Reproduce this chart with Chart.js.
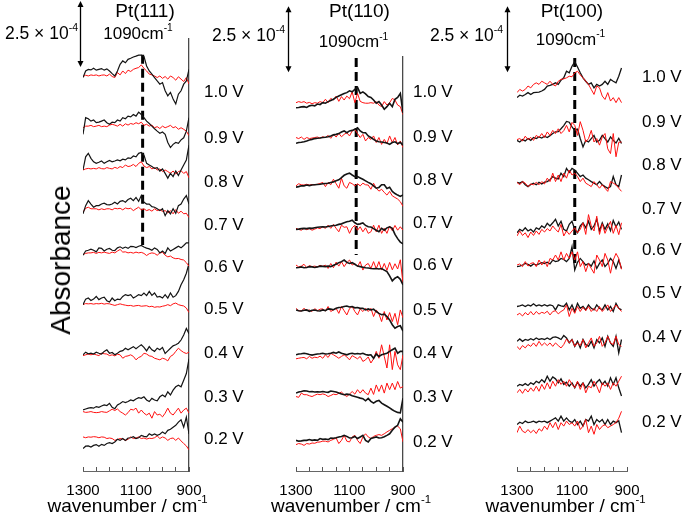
<!DOCTYPE html>
<html><head><meta charset="utf-8">
<script src="https://cdn.jsdelivr.net/npm/chart.js@4.4.1/dist/chart.umd.min.js"></script>
<style>
body{margin:0;background:#fff;}
#wrap{position:relative;width:685px;height:513px;overflow:hidden;font-family:"Liberation Sans",Arial,sans-serif;color:#000;}
#wrap canvas{position:absolute;left:0;top:0;}
.t{position:absolute;white-space:nowrap;line-height:1;}
.t sup{font-size:60%;vertical-align:baseline;position:relative;top:-0.75em;}
</style></head>
<body>
<div id="wrap">
<canvas id="c111" width="685" height="513"></canvas>
<canvas id="c110" width="685" height="513"></canvas>
<canvas id="c100" width="685" height="513"></canvas>
</div>
<script>
// ---------- DATA (absorbance in units of 1e-5, each spectrum relative to its own stacking offset) ----------
const panelTitles = ['Pt(111)', 'Pt(110)', 'Pt(100)'];
const voltages = ['1.0 V','0.9 V','0.8 V','0.7 V','0.6 V','0.5 V','0.4 V','0.3 V','0.2 V'];
const wn111 = [1300,1290,1280,1270,1260,1250,1240,1230,1220,1210,1200,1190,1180,1170,1160,1150,1140,1130,1120,1110,1100,1090,1080,1070,1060,1050,1040,1030,1020,1010,1000,990,980,970,960,950,940,930,920,910,900];
const wn110 = [1300,1290,1280,1270,1260,1250,1240,1230,1220,1210,1200,1190,1180,1170,1160,1150,1140,1130,1120,1110,1100,1090,1080,1070,1060,1050,1040,1030,1020,1010,1000,990,980,970,960,950,940,930,920,910,900];
const wn100 = [1300,1290,1280,1270,1260,1250,1240,1230,1220,1210,1200,1190,1180,1170,1160,1150,1140,1130,1120,1110,1100,1090,1080,1070,1060,1050,1040,1030,1020,1010,1000,990,980,970,960,950,940,930,920];

// stacking offsets (1e-5 units), top trace first
const off111 = [149,130,114,98,82,63,44,22.5,11];
const off110 = [138,125,108,91.5,77,61,44,29.5,11];
const off100 = [142,125.5,109,90.5,78,61,48.5,31.5,17];

// Pt(111) black spectra (1.0 V ... 0.2 V)
const black111 = [
[0,2.5,3.1,2.9,3.5,2.8,3.1,3.4,2.8,3.3, 2.5,1.5,0.6,2.5,5,6.3,5.6,6.9,7.3,7.8, 8.1,8.5,8.5,8,4.4,2.5,1.3,0,-1.3,-2.5, -1.9,-5,-6.9,-5.6,-8.1,-10,-6.3,-5,-2.5,-1.3, 3.1],
[-2.5,3.8,3.4,2.5,2.9,1.9,2.1,2.5,2.9,1.9, 1.3,2.1,1.9,2.9,2.5,3.8,3.4,4.4,4.1,5, 4.4,5.9,5,3.8,2.5,1.6,0.6,-0.4,-1.3,-2.1, -1.6,-2.5,-5.6,-7.5,-6.3,-5.6,-5.9,-4.6,-3.8,-1.3, 3.8],
[0,5,6.3,4.4,3.1,2.5,2.9,3.4,2.5,3.1, 3.6,3.1,3.4,3.8,3.5,4.1,3.8,4.6,4.4,5.3, 5,6.3,6.6,5.6,2.5,1.9,1.3,0.6,0.9,-0.4, 0.4,-1.3,-3.1,-1.3,-2.5,-0.4,-2.1,0,1.9,3.8, 9.4],
[-0.6,2.5,4.4,3.1,1.9,2.5,2.5,3.1,3.4,2.9, 2.8,3.1,3.8,3.1,4.1,4.4,3.8,4.8,5.3,4.4, 5.6,4.1,6.3,3.8,3.1,3.1,2.1,1.9,1.3,0.6, 1.3,-1.3,0.6,-0.6,1.3,-0.4,2.5,3.1,5,6.3, 3.1],
[-0.3,1.3,1.6,2,1.6,1,2.5,2.3,1.3,2, 2.3,1.6,1.5,2.5,2.9,2.3,2.8,2.3,3.1,3, 2.6,3.1,3.4,2.8,2.4,2.1,1.6,2.5,1.9,0.6, 1.3,0.4,2.5,1.3,1.9,2.5,3.1,2.5,3.4,4.4, 4.4],
[0,2.1,2.5,1.6,2.1,3.1,1.9,2.5,2.8,1.5, 1,2.5,1.5,2.1,1.9,3.1,3.8,3.4,3.8,2.5, 3.1,3.8,3.4,4.4,3.4,5,3.5,4.4,2.9,3.1, 2.5,3.8,2.5,4.4,2.8,3.4,5,7.5,9.4,11.9, 15.6],
[0,1,0.4,0.6,0.3,1,0.6,0.3,1.3,1.9, 0.6,0.9,0,0.6,1.3,1.6,2.5,1.9,2.5,3.1, 2.3,3.1,3.8,2.8,1.5,3.1,1.9,1.3,2.5,1.9, 2.8,0.5,1.5,2.5,3.4,3.8,4.4,5.6,7.5,10, 8],
[0.6,1,1.3,1.5,1.3,1.9,1.6,2.1,2.5,2.3, 3.1,1.6,1.1,2.5,3.1,3.8,3.4,3.8,4.4,4.1, 4.8,5.3,5,5.6,4.4,3.8,5,4.4,4.1,5.6, 6.3,5.6,7.5,6.3,8.1,9.4,10,9.4,11.9,14.4, 20],
[-2.5,-1.6,-1.5,-1.9,-1.3,-1,-1.6,-0.9,-1.3,-0.6, -0.3,-0.6,0,1,0.6,1.3,0.6,1.5,1.6,2, 1.3,1.6,2.5,2.1,1.9,3.1,2.5,3,2.5,2.9, 3.8,3.1,4.4,4.8,5.6,6.3,7.5,8.4,5.6,9.4, 3]
];
// Pt(111) red spectra
const red111 = [
[0.4,0.9,0.6,1,0.8,1,0.6,0.9,1,0.6, 1.3,0.4,0,1.9,1,2.5,1.5,2.8,2.3,3.1, 3.5,3.8,4.8,3.5,2.5,1.3,1,0.6,0,0.6, -0.3,0.4,-0.6,0.6,0,-1,0.3,-0.6,-1.5,0, -2.5],
[0,0.6,0.6,0.9,0.4,0.6,0.9,0.4,0.6,0.4, 1,1.3,1,0.6,1.3,0.6,1.5,1,1.6,1.3, 1.9,1.5,2.1,0.9,1.3,0.6,1,0,0.4,-0.3, 0.6,0,0.4,0.9,0,0.4,-0.6,0,-0.6,-1.3, -3],
[0,0.4,0.6,0.4,0.6,0.4,0.9,0.5,0.4,0.9, 0.6,0.4,1,0.6,1.3,0.9,1.9,1.3,1.5,2.1, 1.3,2.5,3.1,1.5,0.9,1.3,0.4,0.9,0,0.4, -0.6,0,-0.6,-1.3,-0.4,-1.6,-0.6,-0.3,-1.3,-0.6, -3],
[0,1.5,1.9,1.3,1.3,1.3,0.9,1.3,1,1.3, 1.3,0.9,1.5,1.3,1.5,0.9,1.6,1.3,1.5,0.6, 1.3,1.9,0.9,1.3,0.6,1,0.4,1.3,0.6,1, 0.3,0.6,-0.3,0.6,-0.6,1,-0.4,0.4,-0.6,-0.4, -2],
[0,0.4,0.6,0.6,0.8,0.4,0.8,0.6,0.9,0.6, 0.4,0.9,0.6,1.3,1.9,0.9,1,0.6,0.8,0.5, 0.9,0.6,0.8,0.4,-0.4,0.3,0.6,0.4,-0.3,0.6, 0.8,-0.3,-0.9,-0.6,-1.3,-1.6,-1.5,-1.9,-2.1,-3.1, -4.4],
[0,0.4,0.3,0.4,0.2,0.4,0.3,0.5,0.2,0.4, 0.3,0,-0.3,0,0.3,0,-0.2,-0.4,-0.3,-0.6, -0.4,-0.3,-0.6,-0.5,-0.4,-0.8,-0.6,-1,-0.8,-0.9, -0.6,-0.4,0,-0.4,0.3,0.6,0,-0.3,-0.5,-1.3, -3],
[-0.3,0,0.3,0,0.3,0,-0.3,0.6,0.4,0.3, -0.3,0,-0.4,0.2,0,-1.3,-0.6,-0.4,0,-0.6, -1.9,-1,-0.6,0.6,0.3,-0.4,-0.6,-1.3,-1.6,-1.9, -1.3,-1.6,-2.3,-0.6,0,1.3,2.5,1.6,0.9,0.5, 1],
[0,-0.3,-0.2,0,-0.3,-0.4,-0.3,0,-0.2,-0.3, 0.3,0.9,0.4,1,0,-0.6,-1.3,-0.4,0.9,0.6, 1.3,-0.6,0.6,-0.6,-1.3,-0.6,-2.5,0,-1.3,-1, -2,-0.6,1.3,-0.6,-1.3,0,1.3,-0.6,0.6,1.3, -0.6],
[1.9,1.6,1.9,1.8,2,1.9,1.6,1.9,1.8,1.3, 1.5,1.3,0.6,0.9,1.3,1.1,0.6,1,1.9,1.3, 1.5,1.9,1.3,1.5,1.1,1.4,1.3,1.6,2.3,1.3, 1.9,1.5,0.6,1.3,1.5,0.6,1.5,0.4,-0.6,-1.5, -3]
];

// Pt(110) black spectra
const black110 = [
[-0.4,-0.3,-0.1,0,-0.3,0.3,0.5,0.3,1,0.8, 1.5,1.3,1.9,2.3,2.8,3.5,4,4.5,5,5.3, 6,5.6,6.5,7.3,5,5.6,4.8,3.8,3.5,2.5, 1.3,1.9,0.6,-1,0,1.3,0,2.8,3.5,5, -2.5],
[-0.9,-0.6,-0.5,-0.3,0,0.4,0.6,0.9,1,1.1, 1.3,1.4,1.6,1.9,2.3,2.5,2.8,3.4,3.8,3.1, 3.8,4,4.4,5,3.8,3.1,3.1,1.9,1.3,0.6, 0,-0.3,-0.4,-0.6,-0.8,-1.3,-0.6,-0.3,-1,-0.6, -1.6],
[-0.5,-0.3,0,0,0.3,0.1,0.3,0.4,0.5,0.6, 0.8,0.9,1,1.3,1.5,1.9,2.3,3.1,4,4.5, 4.8,4.1,3.5,3.5,3,2.5,1.9,1.3,0.8,0, -0.9,-0.6,0.4,0.4,-1,-0.5,-2.1,-2.9,-3.5,-4, -3.4],
[0,0.1,0.3,0.4,0.3,0.5,0.4,0.6,0.8,0.9, 1,0.9,1.1,1.3,1.5,1.6,1.9,2.1,2.5,2.9, 3.1,3.5,2.5,1.9,2.1,2.5,1.5,1,0.9,0.3, -0.3,-0.9,0.4,-0.3,0.6,1,0.4,-1.9,-3.5,-4.8, -5.5],
[0,0.1,0.3,0,0.1,0.4,0.3,0.1,0.3,0.6, 0.5,0.4,0.6,0.4,0.9,1.3,1.9,2.3,2.9,2, 1.6,1.9,1.3,0.6,0.4,0.2,0,-0.1,-0.3,-0.4, -0.3,-0.5,-0.3,-0.9,-1.5,-3.1,-5,-4,-3.4,-4.4, -6.5],
[0,-0.3,-0.4,-0.1,0,-0.5,-0.1,0,-0.3,-0.4, 0,-0.3,0.4,0.3,0.1,0.6,0.9,1,1.3,1.5, 1.1,1.3,0.8,0.9,0.6,0.6,0,0.4,0,0.3, -0.6,-1.3,-1.8,-1.6,-2.5,-3.8,-5.6,-6.9,-6.3,-6, -8],
[0,0.3,0.4,0.6,0.4,0.1,-0.1,0.1,0.3,0.4, 0.6,0.3,0.4,0.6,0.9,0.6,1.1,0.6,0.3,0, 0.4,0.6,0.3,0.5,0.3,0.6,0.1,-0.1,0,-1.3, 0.3,-0.6,0,0.3,0.6,1.3,1.9,2.5,0.6,1.3, 1.3],
[0,0.4,0.6,0.9,0.8,0.5,0.6,0.4,0.5,0.4, 0.6,0.4,0.3,0.8,0.6,0.4,0,-0.3,-0.6,-0.4, -0.5,-1,-1.3,-1.6,-1.9,-2.1,-2.9,-2,-3.1,-3.8, -3.1,-2.8,-3.8,-4.4,-5,-5.6,-6.3,-6.9,-7.3,-7.5, -1.9],
[0.6,0.3,0.4,0.6,0.6,0.9,0.6,0.8,0.6,1.3, 1,1.1,0.9,1.5,1.4,1.6,1.9,2.1,2.5,2.1, 1.5,1.6,2.1,1.3,1.9,2.5,0.6,0,1.3,1.6, 1.9,1.5,1.6,2,2.5,3.1,4.4,5.6,6.3,8.8, 7.5]
];
// Pt(110) red spectra
const red110 = [
[1.5,1.9,1.6,1.9,1.3,1.6,1.1,1.5,1.3,1.9, 1.5,2.8,1.5,3.1,2.5,4,2,3.8,2.5,4, 3,5.6,1.5,5,2,1.5,1.3,1.3,1.5,1.3, 1.9,0.6,0,1.9,0.6,1.5,3.1,2.5,0.6,0, -3],
[1.3,0.9,1.5,0.6,1.3,0.9,1.1,1.3,1.5,1.1, 1.6,1.3,2.1,1,2.5,1.5,2.9,1.6,2.5,3.1, 1.9,3.8,4.4,2.8,1.3,2.5,0,1.3,0.6,1.9, -0.6,1.3,-1.3,0.6,-1,1.9,-0.6,1.3,-1.5,0, -2.5],
[0,0.8,0.4,0.3,0.6,0.3,0.5,0.4,0.6,0.9, 1.3,-0.3,1.3,0.4,2.5,0.8,-0.9,2.9,0,-0.9, 1.3,0.8,0,0.8,0,1,0.4,0.3,-1.3,1, -0.9,-2,-1.3,-2.5,-3.5,-2.1,-3.8,-4.4,-5,-6, -7.8],
[0.4,0,-0.3,0.4,-0.1,0.3,-0.3,0.1,0.6,0.3, 1,0.4,1.6,0.4,1.9,0.4,-0.9,1.6,0.8,1, -1.5,0.6,1.6,-0.3,1,-0.9,0.6,-1.5,-0.9,1.6, -0.9,1.6,-1.5,0.4,-1.5,1.3,-0.5,1.5,-0.3,1, -0.3],
[1,0.3,0.6,1.3,0,0.8,0.4,0.6,0.3,0.9, 0.5,1,-0.3,1.6,0,2.1,0.6,2.3,0.4,1.9, 2.9,1,1.6,0.4,2.3,-0.9,1,1.6,-0.3,2.3, -0.4,2.3,-0.9,1.6,-1,2,-0.8,1.5,-0.5,3, -6],
[0.6,-0.3,-0.4,0.6,-0.3,0,-0.6,0.5,-0.3,0.3, 0.4,-0.4,1.3,-0.6,0,0.6,-1.3,1.3,-0.3,-1.9, 0.5,1.3,-0.6,-1.9,0.4,-0.6,0.6,-0.6,0.6,-2.5, 0,-1.5,-4.4,-0.6,-3.8,-1,-4.4,-1.3,-5.6,0, -3],
[-1.5,-1.3,-1.1,-1,-1.5,-0.6,-1.3,-0.9,-1.1,-0.5, -1.3,0,-1,0.6,0,-0.6,-1.3,-0.6,0,-0.8, -1.9,-0.3,-0.9,-1.5,-0.6,-2.5,-1.9,-0.8,-3.1,-1.5, 1.3,-1.3,3.8,-0.6,-5,3.8,-5.6,1.3,-3.8,-5.6, 0],
[-1.3,-1.6,0,-0.6,-0.6,-1,-1.3,-0.8,-0.4,-0.6, -0.3,-0.6,-1.3,-0.9,-0.4,-0.6,-0.1,0.4,-0.6,-1.3, -0.4,0.6,-0.4,1.3,0,1.3,0,-0.6,1.9,-0.5, 3.1,0.6,3.1,0,3.8,1.3,3.8,1.3,4.4,1.9, 2.5],
[-1,-0.6,-0.8,-1.3,-0.6,-0.8,-0.4,-0.5,-0.1,0, 0.3,0.3,0,0.6,1,1.5,-0.6,0.6,2.5,0.3, 0,1.9,2.5,0.6,-0.6,1.9,3.1,1.9,1.3,2.1, 2.5,2.8,2.5,3.1,3.8,4.4,5,5.6,6,5, 0]
];

// Pt(100) black spectra
const black100 = [
[-0.6,0.3,0,0.6,1.3,0.6,1.3,1.4,1.5,1.9, 2.5,3.8,4,4.4,5,4.4,6,6.9,9.4,8.8, 11.3,13,11,8.8,6.9,5.6,4.4,5,3.1,4.4, 3.8,4.4,5.6,4.4,6.3,5.6,5,7.5,10.6],
[-0.3,-0.9,0,-0.5,0.4,-0.3,0.8,0.4,1,0.6, 1.3,0.8,1.5,2.3,2.9,3,4.1,5.3,6.9,6.6, 4.8,3.5,4,0.4,-2.8,-0.3,-0.9,0.4,1.6,-0.9, -0.3,1.6,0.4,-0.9,1,-0.3,-1.3,0.5,-1.5],
[0.3,0,0.6,-0.6,-1.3,-0.5,0,-0.6,0.3,-0.3, 0.4,0.6,1.3,2.5,1.9,1.6,3.8,2.5,5.6,4.1, 5.6,5,3.8,2.5,3.1,1.9,1.3,0.6,0,-0.6, 0.6,-0.6,-1.3,-1.9,-1.3,2.5,-0.6,-1.3,3.1],
[-0.3,1,0.4,1.6,0.4,1,0,1.6,1,2.3, 1.6,3.3,2.3,3.5,4.8,2.3,4.1,1,0.4,2.9, 4.1,1,-0.3,2.3,3.5,1.6,4.1,1,2.3,4.8, 0.4,3.5,1,3.1,0.5,4.4,2,3.8,1],
[-0.6,-0.4,0,0.6,0.3,-0.4,0.4,0,0.4,0.9, 0.6,1.1,0.4,1.9,1.3,1.6,2.5,2.1,1.3,2.5, 6.9,-1.9,1,2.5,1.3,0,0.6,-0.4,1.6,-1.3, 0.6,1.9,-0.6,0.6,2.5,1.3,-1.3,1.9,-1.3],
[1.3,1.5,1.9,1.3,1.9,1.5,2.3,1.5,1.9,1.5, 2,1.5,1.9,1.6,0,1.9,1.5,1.3,2.5,0, 1.9,-0.6,2.5,0.6,1.3,0,1.9,0.6,0,1.9, 0.6,0,1.9,0,1.3,-0.6,2.5,0.6,0],
[0.6,1.5,0.6,1.3,1,1.6,1.1,1.9,1.3,1.6, 1.3,1.9,1.3,2.1,2.3,1.9,1.3,2.8,1.9,0, 1.3,-1.3,0.6,-1.9,1.3,-0.6,-1.3,0.6,-1.9,1.3, 0,1.9,-1.3,2.5,0,-1.3,2.5,-3.8,1.3],
[0.6,1.3,0.9,1.6,0.9,1.9,1.3,2.5,1.9,3.1, 2.1,4.4,2.5,4.1,3.4,1.9,3.4,1.3,2.1,0.6, 1.9,0,2.1,0.6,1.9,0,1.3,3.1,0.6,2.1, 3.1,1.3,2.5,0.6,3.8,1.3,3.8,0,-3.1],
[0.6,1.5,1,1.9,1.3,1.5,1.9,1.3,1.9,1.6, 1.9,1.3,1.9,2.5,3.1,1.9,3.8,1.9,3.1,1.9, 1.3,2.5,0.6,1.9,0,2.5,1.9,3.8,0.6,2.5, 1.6,2.5,0.6,2.5,0.6,1.9,1.3,2,-2.5]
];
// Pt(100) red spectra
const red100 = [
[1.3,2.5,1.9,2.5,3.8,3.1,4.4,5,4.4,5.6, 5,4.4,5.6,4.4,3.8,5.6,6.3,6.5,6.9,7.5, 7.3,8.8,9.4,8,6.9,5.6,4.4,2.5,0.6,3.8, 3.1,0,-1.3,1.3,-1.9,-0.6,-2.5,-0.6,-2.5],
[0,0.4,-0.5,1.3,0,0.8,-0.3,1.6,0.8,2.3, 0.8,2.9,1.6,3.5,2.3,4.1,2.3,3.4,5.4,2.9, 6.5,5.4,1.6,6.8,3.5,-0.9,0.4,3.5,-0.9,0.4, -2.1,1,2.3,-3.5,-5.3,2.3,-6.5,-1,-0.9],
[0.3,-0.6,0.6,0,-1.3,-0.3,-0.6,0.3,-0.6,0.6, -0.3,1.9,0.6,3.8,0.6,3.1,0.6,3.8,1.9,5, 3.1,3.8,2.5,0.6,1.9,0,-0.6,-1.3,0.6,-0.6, -1.9,-0.6,-1.9,-3.1,0.6,0,-0.6,-1.9,-3.1],
[-1.5,0.4,-1.3,-0.3,-2.1,0,-1.3,0.4,-0.9,1, 0,1.3,0.4,2.3,1,0,2.9,-1.5,0.4,-0.9, 0.4,1.6,-0.3,1,3.5,-0.9,6.6,2.3,0.4,6, -0.9,3.1,-0.5,1.9,4,-0.5,2.5,-1,3.5],
[0,0.4,-0.6,1.3,-0.4,0.6,0.9,-0.6,1.9,0, 1.6,-0.6,2.5,1.9,3.8,1.9,5,1.9,4.4,2.5, 5,1.9,5,-0.6,1.3,-2.5,0.6,-1.3,-3.1,3.8, 1.9,-0.6,4.4,1.9,-3.1,1.9,4.4,2.5,-1.6],
[-1.9,-1.3,-2.3,-1,-1.9,-0.6,-1.9,-0.6,-1.6,-0.9, -1.3,-0.5,-1.9,-0.6,-0.3,-1.5,-0.6,0,1.9,-2.5, 0.6,-1.3,1.3,-0.6,1,-0.3,1.3,-0.6,0.6,-0.6, 1.3,-0.6,0.6,1.9,-0.6,0.6,1.9,0.6,-0.6],
[-1.3,-2.5,-1,-1.9,-0.6,-1.3,0,-1.3,0.6,-1, 0,-1,0,-1.3,0,-1,-1.9,-0.6,1.5,0, 1.3,-1.3,0,-1,1.3,-1.9,0,1.9,-1.3,0, 2.5,-1.3,0,2.5,0,-0.6,2.5,-0.6,-1.3],
[-1.9,-0.6,-2.1,-0.4,-1.6,0,-1.3,0.6,-1.3,1.3, -0.6,1.9,-0.4,2.5,0.6,3.1,1.3,2.5,0.6,3.1, 1.3,0,2.5,-0.6,1.9,-1.9,0.6,0,2.5,0.6, -1.9,1.9,0.6,1.9,-0.6,1.9,0.6,2.5,4.4],
[-2.5,0,-1.9,-2.5,-1.3,-2.5,-1.5,-2.8,-1,-1.9, 0,-1.3,1.3,-0.6,1.5,-1.3,1.3,0,1.9,0.6, 1.3,0,1.9,-1.3,0,2.5,-2.5,0,-3.1,0.6, -1.3,0,0.6,-0.6,0,0.6,1.3,3,5.6]
];

// marker line (position where it is drawn in the figure) and its vertical extent
const markerWn = [1075, 1075, 1090];
const markerTop = [157.6, 156.4, 156.4];
const markerBottom = [85.6, 81.8, 76.9];
const markerLabel = '1090cm<sup>-1</sup>';
// scale bar: 2.5e-4 = 25 units
const scaleBarValue = 25;
const scaleBarLabel = '2.5 × 10<sup>-4</sup>';
const scaleBarBase = [153, 151, 151];
const scaleBarWn = [1311, 1330, 1336];
const xTitle = 'wavenumber / cm<sup>-1</sup>';

// ---------- RENDERING ----------
Chart.defaults.font.family = '"Liberation Sans", Arial, sans-serif';
const FONT = '"Liberation Sans", Arial, sans-serif';

const scaleBarPlugin = {
  id: 'scaleBar',
  afterDraw(chart, args, opts) {
    const xs = chart.scales.x, ys = chart.scales.y, ctx = chart.ctx;
    const px = Math.round(xs.getPixelForValue(opts.wn)) + 0.5;
    const y0 = ys.getPixelForValue(opts.base);
    const y1 = ys.getPixelForValue(opts.base + opts.value);
    ctx.save();
    ctx.strokeStyle = '#000'; ctx.fillStyle = '#000'; ctx.lineWidth = 1.3;
    ctx.beginPath(); ctx.moveTo(px, y1 + 4); ctx.lineTo(px, y0 - 4); ctx.stroke();
    ctx.beginPath(); ctx.moveTo(px, y1); ctx.lineTo(px - 3, y1 + 6); ctx.lineTo(px + 3, y1 + 6); ctx.closePath(); ctx.fill();
    ctx.beginPath(); ctx.moveTo(px, y0); ctx.lineTo(px - 3, y0 - 6); ctx.lineTo(px + 3, y0 - 6); ctx.closePath(); ctx.fill();
    ctx.restore();
  }
};

function makePanel(p) {
  const ds = [];
  for (let j = 0; j < p.off.length; j++) {
    const blk = {data: p.black[j].map((v, i) => ({x: p.wn[i], y: v + p.off[j]})), borderColor: '#141414', borderWidth: p.bw, pointRadius: 0, tension: 0, fill: false};
    const red = {data: p.red[j].map((v, i) => ({x: p.wn[i], y: v + p.off[j]})), borderColor: '#ff1010', borderWidth: 1, pointRadius: 0, tension: 0, fill: false};
    if (p.blackOnTop) ds.push(red, blk); else ds.push(blk, red);
  }
  ds.push({data: [{x: p.mark, y: p.mTop}, {x: p.mark, y: p.mBot}], borderColor: '#000', borderWidth: 3, borderDash: [9, 5], pointRadius: 0, fill: false});
  return new Chart(document.getElementById(p.id), {
    type: 'line',
    data: {datasets: ds},
    options: {
      responsive: false, animation: false, events: [],
      layout: {padding: {left: p.l, right: 685 - p.r, top: p.t, bottom: 0}},
      plugins: {legend: {display: false}, tooltip: {enabled: false},
        scaleBar: {wn: p.barWn, base: p.barBase, value: scaleBarValue}},
      scales: {
        x: {type: 'linear', min: 900, max: 1300, reverse: true, position: 'bottom',
          afterFit: (s) => { s.height = 42; s.paddingLeft = 0; s.paddingRight = 0; },
          grid: {display: true, drawOnChartArea: false, drawTicks: true, tickLength: -4, color: '#555', lineWidth: 1},
          border: {display: true, color: '#666', width: 1},
          ticks: {stepSize: 50, autoSkip: false, maxRotation: 0, minRotation: 0, color: '#000', padding: 15,
            font: {family: FONT, size: 15},
            callback: (v) => ((v - 900) % 200 === 0 ? String(v) : '')}
        },
        y: {type: 'linear', min: 0, max: p.yMax, position: 'right', display: p.rightLine,
          afterFit: (s) => { s.width = 0; s.paddingTop = 0; s.paddingBottom = 0; },
          grid: {display: false}, ticks: {display: false},
          border: {display: true, color: '#4a4a4a', width: 1.3}
        }
      }
    },
    plugins: [scaleBarPlugin]
  });
}

makePanel({id: 'c111', wn: wn111, off: off111, black: black111, red: red111, bw: 1.2, blackOnTop: false,
  l: 83, r: 189, t: 39, yMax: 163.6, rightLine: true,
  mark: markerWn[0], mTop: markerTop[0], mBot: markerBottom[0], barWn: scaleBarWn[0], barBase: scaleBarBase[0]});
makePanel({id: 'c110', wn: wn110, off: off110, black: black110, red: red110, bw: 1.6, blackOnTop: false,
  l: 296, r: 403, t: 57, yMax: 156.8, rightLine: true,
  mark: markerWn[1], mTop: markerTop[1], mBot: markerBottom[1], barWn: scaleBarWn[1], barBase: scaleBarBase[1]});
makePanel({id: 'c100', wn: wn100, off: off100, black: black100, red: red100, bw: 1.3, blackOnTop: true,
  l: 517, r: 627, t: 39, yMax: 163.6, rightLine: false,
  mark: markerWn[2], mTop: markerTop[2], mBot: markerBottom[2], barWn: scaleBarWn[2], barBase: scaleBarBase[2]});

// ---------- TEXT ----------
const wrap = document.getElementById('wrap');
function addText(html, left, top, size, align, rot) {
  const d = document.createElement('div');
  d.className = 't';
  d.innerHTML = html;
  d.style.left = left + 'px';
  d.style.top = top + 'px';
  d.style.fontSize = size + 'px';
  let tr = '';
  if (align === 'c') tr = 'translateX(-50%)';
  if (align === 'r') tr = 'translateX(-100%)';
  if (rot) tr = 'translate(-50%,-50%) rotate(-90deg)';
  d.style.transform = tr;
  wrap.appendChild(d);
}
const titleX = [145, 359.5, 572];
const markLabelX = [138, 353.5, 570.5], markLabelTop = [25, 33.3, 30.6];
const barLabelRight = [78, 285, 503], barLabelTop = [25.2, 26.9, 26.7];
const vLabelLeft = [204, 413, 642];
const vLabelTop = [
  [82.6,128.6,172.6,215.6,257.6,299.6,343.6,387.6,429.6],
  [82.6,127.6,170.6,213.6,255.6,300.6,343.6,387.6,432.6],
  [67.6,112.6,155.6,199.6,240.6,283.6,327.6,370.6,412.6]
];
const xTitleX = [127.5, 351, 565.5];
for (let k = 0; k < 3; k++) {
  addText(panelTitles[k], titleX[k], 1, 19, 'c');
  addText(markerLabel, markLabelX[k], markLabelTop[k], 17, 'c');
  addText(scaleBarLabel, barLabelRight[k], barLabelTop[k], 17.5, 'r');
  for (let j = 0; j < voltages.length; j++) addText(voltages[j], vLabelLeft[k], vLabelTop[k][j], 17, '');
  addText(xTitle, xTitleX[k], 496, 19, 'c');
}
addText('Absorbance', 61, 260, 28, 'c', true);
</script>
</body></html>
